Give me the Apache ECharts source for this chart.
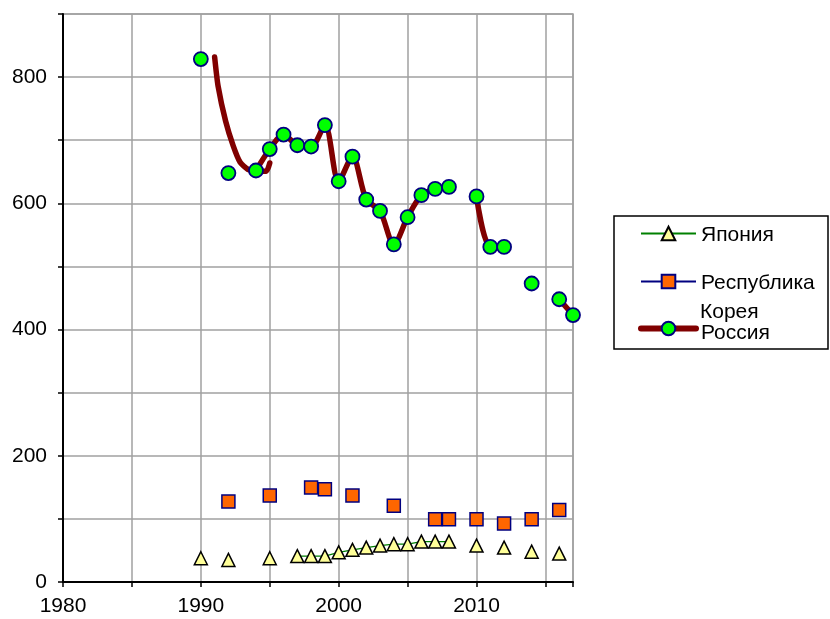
<!DOCTYPE html>
<html>
<head>
<meta charset="utf-8">
<script src="https://cdn.jsdelivr.net/npm/echarts@6/dist/echarts.min.js"></script>
<style>
html,body{margin:0;padding:0;background:#fff;}
#chart{width:830px;height:619px;}
</style>
</head>
<body>
<div id="chart"></div>
<script>
const years = [1990,1991,1992,1993,1994,1995,1996,1997,1998,1999,2000,2001,2002,2003,2004,2005,2006,2007,2008,2009,2010,2011,2012,2013,2014,2015,2016,2017];
const japan  = [37.6,null,35,null,null,37.6,null,41,41,41,47,51,54.5,57.7,60,60,64,64,64,null,57.7,null,54.5,null,48,null,45,null];
const korea  = [null,null,127.5,null,null,137,null,null,149.7,147,null,137,null,null,121,null,null,99.5,99.5,null,99.5,null,92.6,null,99.5,null,114,null];
const russia = [828.6,null,648,null,652,686,709,692,690,724,635,674,606,588,535,578,613,623,626,null,611,531,531,null,473,null,448,423];
// stray smoothed trace drawn at the start of the Russia line
const russiaTraceYears  = [1991,1991.25,1991.8,1992.35,1992.85,1993.4,1994,1994.75,1995];
const russiaTraceValues = [832,786,730,691,665,654,651,651,664];
const seriesNames = ['Япония','Республика Корея','Россия'];
const legendLabels = ['Япония','Республика','Россия'];
const xTicks = [1980,1990,2000,2010];
const yTicks = [0,200,400,600,800];

function pairs(xs, ys){ return xs.map((x,i)=> ys[i]==null ? [x,'-'] : [x, ys[i]]); }

const font = 'Liberation Sans, Arial, sans-serif';
const chart = echarts.init(document.getElementById('chart'), null, {renderer:'canvas'});
function legendAt(top, item, label, shift, left){
  return {
    orient:'vertical', left:left || 640, top:top, padding:0, itemWidth:55, itemHeight:17, selectedMode:false,
    data:[item],
    formatter:()=> '{t|' + label + '}',
    textStyle:{fontSize:21, fontFamily:font, color:'#000',
      rich:{t:{fontSize:21, fontFamily:font, color:'#000', lineHeight:21, padding:[shift,0,0,0]}}}
  };
}
chart.setOption({
  animation:false,
  backgroundColor:'#fff',
  grid:{left:63, right:257, top:14, bottom:37, show:true, borderColor:'#a0a0a0', borderWidth:1.5, containLabel:false},
  xAxis:{
    type:'value', min:1980, max:2017, interval:5,
    axisLine:{show:true, onZero:false, lineStyle:{color:'#000', width:2}},
    axisTick:{show:true, length:5, lineStyle:{color:'#000', width:1.5}},
    axisLabel:{margin:14, fontSize:21, fontFamily:font, color:'#000',
      formatter:v=> xTicks.includes(v) ? String(v) : ''},
    splitLine:{show:true, lineStyle:{color:'#a0a0a0', width:1.5}}
  },
  yAxis:{
    type:'value', min:0, max:900, interval:100,
    axisLine:{show:true, lineStyle:{color:'#000', width:2}},
    axisTick:{show:true, length:5, lineStyle:{color:'#000', width:1.5}},
    axisLabel:{margin:16, fontSize:21, fontFamily:font, color:'#000',
      formatter:v=> yTicks.includes(v) ? String(v) : ''},
    splitLine:{show:true, lineStyle:{color:'#a0a0a0', width:1.5}}
  },
  legend:[
    legendAt(221, seriesNames[0], legendLabels[0], 4),
    legendAt(269, seriesNames[1], legendLabels[1], 4),
    legendAt(313, {name:seriesNames[2], lineStyle:{width:6}}, legendLabels[2], 10, 638)
  ],
  graphic:[
    {type:'rect', shape:{x:614, y:216, width:214, height:133}, style:{fill:'none', stroke:'#000', lineWidth:1.5}, z:100},
    {type:'text', x:700, y:312, style:{text:'Корея', fontSize:21, fontFamily:font, fill:'#000', verticalAlign:'middle'}, z:100}
  ],
  series:[
    {
      name:seriesNames[0], type:'line', data:pairs(years, japan), connectNulls:false,
      symbol:'triangle', symbolSize:13, showAllSymbol:true,
      lineStyle:{color:'#008000', width:1.2},
      itemStyle:{color:'#FFFF99', borderColor:'#000', borderWidth:1.5}
    },
    {
      name:seriesNames[1], type:'line', data:pairs(years, korea), connectNulls:false,
      symbol:'rect', symbolSize:13, showAllSymbol:true,
      lineStyle:{color:'#000080', width:1.2},
      itemStyle:{color:'#FF6600', borderColor:'#000080', borderWidth:1.5}
    },
    {
      name:'trace', type:'line', data:pairs(russiaTraceYears, russiaTraceValues),
      smooth:0.2, showSymbol:false, symbol:'none',
      lineStyle:{color:'#800000', width:5.5, cap:'round', join:'round'}, z:2
    },
    {
      name:seriesNames[2], type:'line', data:pairs(years, russia), connectNulls:false,
      smooth:0.3, symbol:'circle', symbolSize:14, showAllSymbol:true,
      lineStyle:{color:'#800000', width:5.5, cap:'round', join:'round'},
      itemStyle:{color:'#00FF00', borderColor:'#000080', borderWidth:1.8}, z:3
    }
  ]
});
</script>
</body>
</html>
